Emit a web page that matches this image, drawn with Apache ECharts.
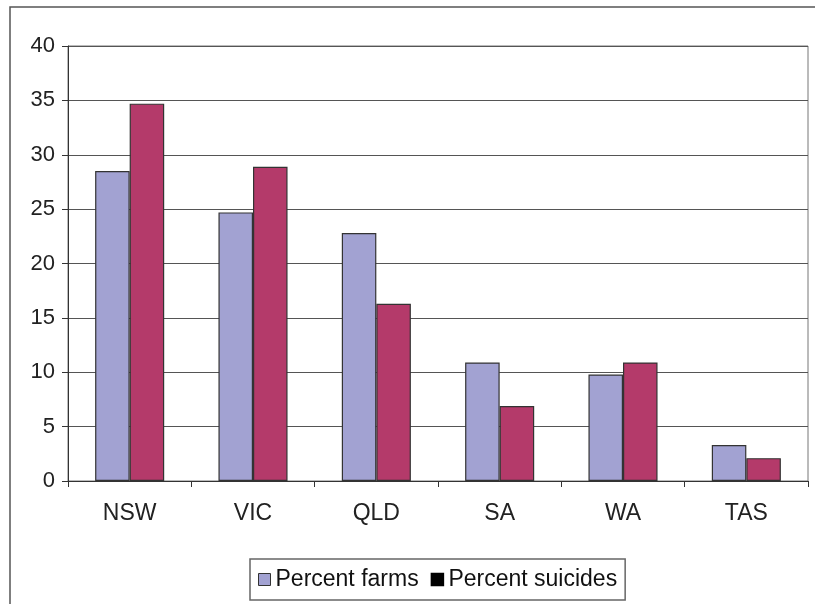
<!DOCTYPE html>
<html>
<head>
<meta charset="utf-8">
<script src="https://cdn.jsdelivr.net/npm/echarts@6/dist/echarts.min.js"></script>
<style>
  html, body { margin: 0; padding: 0; background: #fff; }
  #chart { width: 815px; height: 604px; }
</style>
</head>
<body>
<div id="chart"></div>
<script>
// States and their shares (%) of farms and of farmer suicides
const states = ['NSW', 'VIC', 'QLD', 'SA', 'WA', 'TAS'];
const percentFarms = [28.5, 24.7, 22.8, 10.9, 9.8, 3.3];
const percentSuicides = [34.7, 28.9, 16.3, 6.9, 10.9, 2.1];
const yTicks = [0, 5, 10, 15, 20, 25, 30, 35, 40];

const chart = echarts.init(document.getElementById('chart'), null, { renderer: 'canvas' });

const font = 'Arial, "Liberation Sans", sans-serif';

chart.setOption({
  animation: false,
  backgroundColor: '#ffffff',
  graphic: [{
    type: 'rect',
    shape: { x: 10, y: 7, width: 820, height: 620 },
    style: { fill: 'none', stroke: '#555', lineWidth: 1.5 },
    z: -1
  }],
  grid: {
    left: 68, right: 7, top: 46, bottom: 123,
    show: true, borderColor: '#777', borderWidth: 1, backgroundColor: 'transparent'
  },
  legend: {
    bottom: 4,
    left: 250,
    orient: 'horizontal',
    itemWidth: 12, itemHeight: 12, itemGap: 12,
    padding: [9, 8, 9, 8],
    borderColor: '#666', borderWidth: 1.5,
    textStyle: { fontFamily: font, fontSize: 23, color: '#111' },
    data: [
      { name: 'Percent farms', icon: 'rect', itemStyle: { color: '#a2a2d2', borderColor: '#333', borderWidth: 1 } },
      { name: 'Percent suicides', icon: 'rect', itemStyle: { color: '#000', borderColor: '#000', borderWidth: 1.5 } }
    ]
  },
  xAxis: {
    type: 'category',
    data: states,
    axisLine: { lineStyle: { color: '#333', width: 1 } },
    axisTick: { show: true, length: 6, lineStyle: { color: '#333' } },
    axisLabel: { fontFamily: font, fontSize: 23, color: '#222', margin: 21 }
  },
  yAxis: {
    type: 'value',
    min: 0, max: 40, interval: 5,
    axisLine: { show: true, lineStyle: { color: '#333' } },
    axisTick: { show: true, length: 6, lineStyle: { color: '#333' } },
    axisLabel: {
      fontFamily: font, fontSize: 22, color: '#222', margin: 13,
      formatter: v => (yTicks.includes(v) ? String(v) : '')
    },
    splitLine: { show: true, lineStyle: { color: '#555', width: 1 } }
  },
  series: [
    {
      name: 'Percent farms',
      type: 'bar',
      data: percentFarms,
      barGap: '0%',
      barCategoryGap: '44%',
      itemStyle: { color: '#a2a2d2', borderColor: '#333', borderWidth: 1.2 }
    },
    {
      name: 'Percent suicides',
      type: 'bar',
      data: percentSuicides,
      itemStyle: { color: '#b43a6a', borderColor: '#333', borderWidth: 1.2 }
    }
  ]
});
</script>
</body>
</html>
